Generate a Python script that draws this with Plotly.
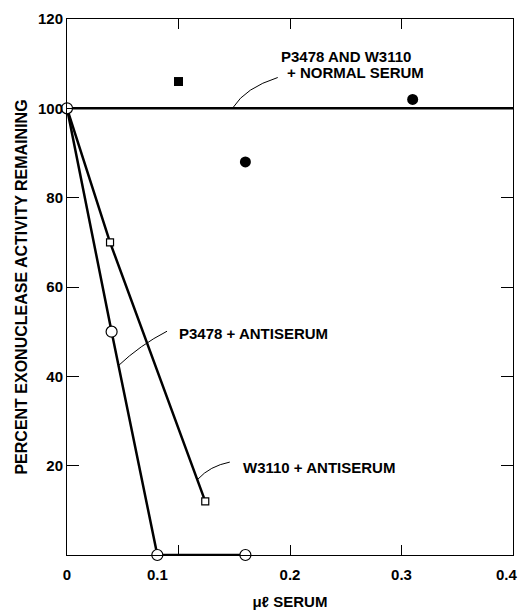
import plotly.graph_objects as go

# Data
normal_line_x = [0.0, 0.4]
normal_line_y = [100, 100]
normal_sq_x = [0.10]
normal_sq_y = [106]
normal_circ_x = [0.16, 0.31]
normal_circ_y = [88, 102]

p3478_x = [0.0, 0.040, 0.081, 0.160]
p3478_y = [100, 50, 0, 0]

w3110_x = [0.0, 0.0386, 0.124]
w3110_y = [100, 70, 12]

x_ticklabel_pos = [0, 0.081, 0.2, 0.3, 0.394]
x_ticklabel_txt = ["0", "0.1", "0.2", "0.3", "0.4"]
x_tickmarks = [0.1, 0.2, 0.3]
y_ticks = [20, 40, 60, 80, 100, 120]

FONT = "Liberation Sans"
fig = go.Figure()

fig.add_trace(go.Scatter(x=normal_line_x, y=normal_line_y, mode="lines",
                         line=dict(color="black", width=2.5), cliponaxis=False))
fig.add_trace(go.Scatter(x=p3478_x, y=p3478_y, mode="lines",
                         line=dict(color="black", width=2.5), cliponaxis=False))
fig.add_trace(go.Scatter(x=w3110_x, y=w3110_y, mode="lines",
                         line=dict(color="black", width=2.5), cliponaxis=False))
fig.add_trace(go.Scatter(x=p3478_x, y=p3478_y, mode="markers", cliponaxis=False,
                         marker=dict(symbol="circle", size=11, color="white",
                                     line=dict(color="black", width=1.2))))
fig.add_trace(go.Scatter(x=w3110_x[1:], y=w3110_y[1:], mode="markers", cliponaxis=False,
                         marker=dict(symbol="square", size=7, color="white",
                                     line=dict(color="black", width=1.2))))
fig.add_trace(go.Scatter(x=normal_sq_x, y=normal_sq_y, mode="markers",
                         marker=dict(symbol="square", size=9, color="black")))
fig.add_trace(go.Scatter(x=normal_circ_x, y=normal_circ_y, mode="markers",
                         marker=dict(symbol="circle", size=11, color="black")))
fig.add_trace(go.Scatter(x=[0], y=[0], xaxis="x2", mode="markers",
                         marker=dict(opacity=0), hoverinfo="skip"))

leaders = [
    "M 0.189 106.9 Q 0.160 104.6 0.149 100.2",
    "M 0.0897 50.1 Q 0.0655 47.0 0.0457 42.3",
    "M 0.146 20.8 Q 0.128 19.9 0.1175 17.0",
]
shapes = [dict(type="path", path=p, xref="x", yref="y",
               line=dict(color="black", width=1)) for p in leaders]

tf = dict(family=FONT, size=15, color="black", weight="bold")
annotations = [
    dict(x=0.250, y=111.5, xref="x", yref="y", text="P3478 AND W3110",
         showarrow=False, font=tf, xanchor="center", yanchor="middle"),
    dict(x=0.259, y=108.1, xref="x", yref="y", text="+ NORMAL SERUM",
         showarrow=False, font=tf, xanchor="center", yanchor="middle"),
    dict(x=0.0987, y=49.7, xref="x", yref="y", text="P3478 + ANTISERUM",
         showarrow=False, font=tf, xanchor="left", yanchor="middle"),
    dict(x=0.156, y=19.5, xref="x", yref="y", text="W3110 + ANTISERUM",
         showarrow=False, font=tf, xanchor="left", yanchor="middle"),
]

fig.update_layout(
    width=520, height=610,
    margin=dict(l=67, r=7, t=19, b=55, autoexpand=False),
    paper_bgcolor="white", plot_bgcolor="white",
    showlegend=False,
    shapes=shapes, annotations=annotations,
    font=dict(family=FONT, size=15, color="black"),
    xaxis=dict(range=[0, 0.4], tickvals=x_ticklabel_pos, ticktext=x_ticklabel_txt,
               ticks="", showgrid=False, zeroline=False, showline=True,
               linecolor="black", linewidth=1, mirror=True, automargin=False,
               tickfont=tf, ticklabeloverflow="allow", ticklabelstandoff=6,
               title=dict(text="μℓ SERUM", font=tf, standoff=14)),
    xaxis2=dict(range=[0, 0.4], overlaying="x", side="bottom", matches="x",
                tickvals=x_tickmarks, ticks="inside", ticklen=10, tickcolor="black",
                tickwidth=1, showticklabels=False, showgrid=False, zeroline=False,
                showline=False, mirror="ticks", automargin=False),
    yaxis=dict(range=[0, 120], tickvals=y_ticks, ticks="inside", ticklen=12,
               tickcolor="black", tickwidth=1, showgrid=False, zeroline=False,
               showline=True, linecolor="black", linewidth=1, mirror="ticks",
               tickfont=tf, automargin=False,
               title=dict(text="PERCENT EXONUCLEASE ACTIVITY REMAINING",
                          font=dict(family=FONT, size=16, color="black", weight="bold"),
                          standoff=6)),
)

fig.write_html("out.html")
